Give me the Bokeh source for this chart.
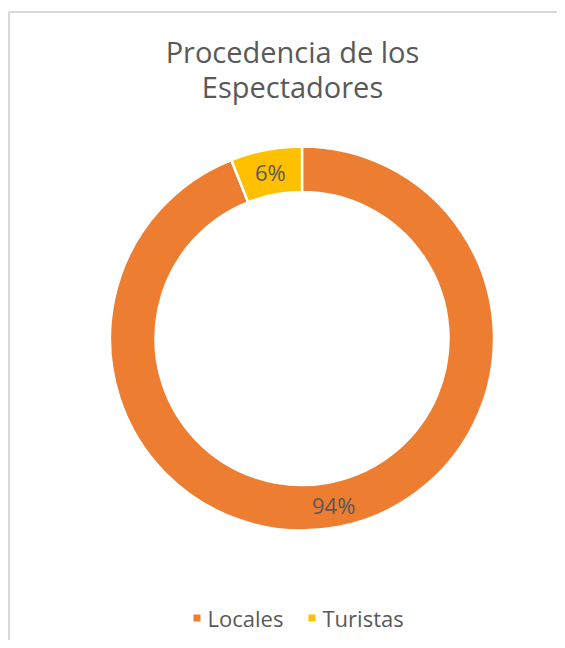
import numpy as np
from bokeh.plotting import figure
from bokeh.models import Range1d, ColumnDataSource
from bokeh.core.properties import value
from bokeh.embed import file_html
from bokeh.resources import INLINE

# ---- data ----
categories = ["Locales", "Turistas"]
shares = [94, 6]
labels = ["94%", "6%"]
colors = ["#ED7D31", "#FFC000"]
title_lines = ["Procedencia de los", "Espectadores"]

FONT = "Open Sans"
TXT = "#595959"
W, H = 557, 640

p = figure(width=W, height=H, output_backend="svg", toolbar_location=None,
           x_range=Range1d(0, W), y_range=Range1d(0, H),
           min_border=0, outline_line_color=None)
p.axis.visible = False
p.grid.visible = False
p.background_fill_color = "white"
p.border_fill_color = "white"

def py(page_y):
    return H - page_y

def px(page_x):
    return page_x

# frame (top and left edges visible in reference)
p.line(x=[px(8.5), px(8.5)], y=[0, py(11.5)], line_color="#D9D9D9", line_width=2)
p.line(x=[px(8.5), W], y=[py(11.5), py(11.5)], line_color="#D9D9D9", line_width=2)

# donut
cx, cy = px(301.5), py(338)
r_out, r_in = 192, 146.5
vals = np.array(shares, dtype=float)
frac = vals / vals.sum()
cum = np.cumsum(frac)
prev = np.concatenate([[0], cum[:-1]])
start = np.pi / 2 - prev * 2 * np.pi
end = np.pi / 2 - cum * 2 * np.pi
mid = (start + end) / 2
r_mid = (r_out + r_in) / 2

src = ColumnDataSource(dict(start=start, end=end, color=colors, cat=categories,
                            lx=cx + r_mid * np.cos(mid), ly=cy + r_mid * np.sin(mid),
                            lab=labels))
p.annular_wedge(x=cx, y=cy, inner_radius=r_in, outer_radius=r_out,
                start_angle="start", end_angle="end", direction="clock",
                fill_color="color", line_color="white", line_width=2.5, source=src)
p.text(x="lx", y="ly", text="lab", source=src, text_align="center",
       text_baseline="middle", text_font=value(FONT), text_font_size="22px",
       text_color=TXT)

# title
p.text(x=[px(292), px(292)], y=[py(51), py(86)], text=title_lines,
       text_align="center", text_baseline="middle", text_font=value(FONT),
       text_font_size="29px", text_color=TXT)

# legend
leg_sq_x = [px(196.5), px(311.5)]
leg_tx_x = [px(207), px(322)]
leg_y = py(617.5)
p.rect(x=leg_sq_x, y=[leg_y] * 2, width=7, height=7, fill_color=colors, line_color=None)
p.text(x=leg_tx_x, y=[leg_y] * 2, text=categories, text_align="left",
       text_baseline="middle", text_font=value(FONT), text_font_size="22px",
       text_color=TXT)

open("out.html", "w").write(file_html(p, INLINE))
